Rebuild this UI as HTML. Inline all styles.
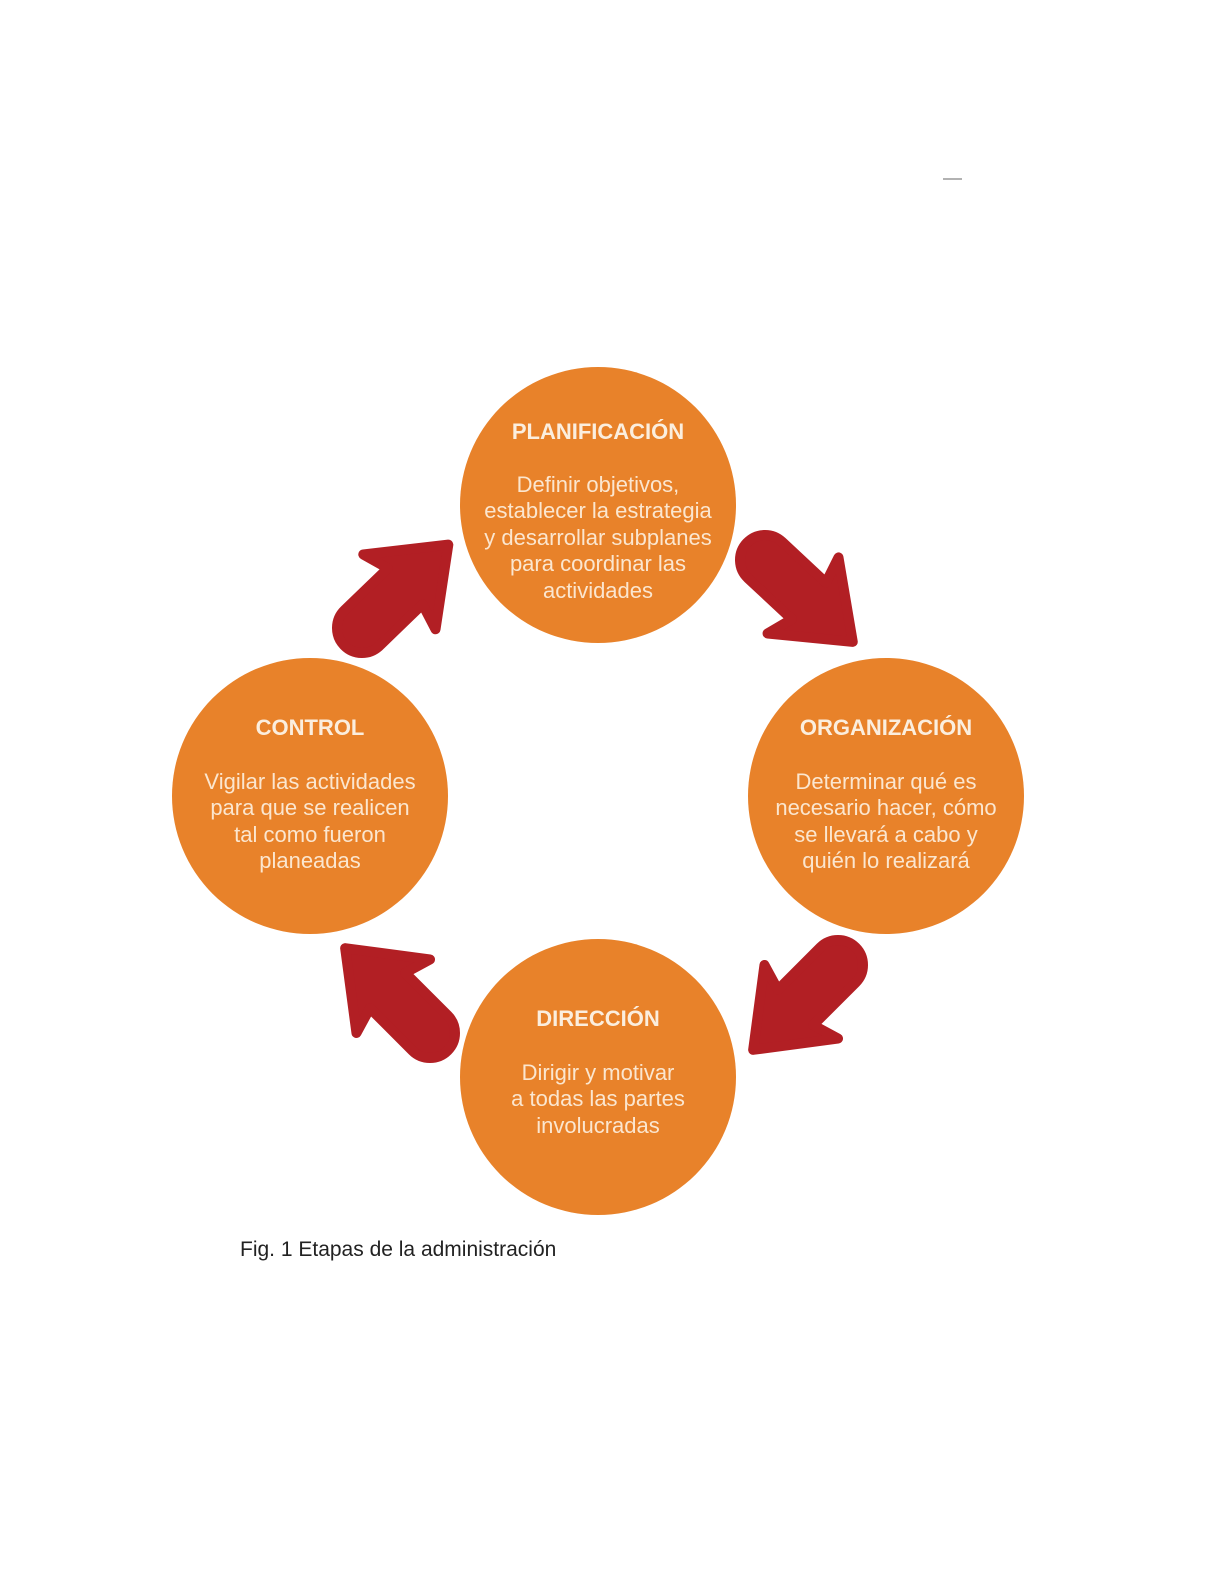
<!DOCTYPE html>
<html><head><meta charset="utf-8"><style>
html,body{margin:0;padding:0;background:#fff;}
svg{display:block;}
.t{font-family:"Liberation Sans",Arial,sans-serif;font-weight:bold;font-size:22px;fill:#fbeede;text-anchor:middle;}
.b{font-family:"Liberation Sans",Arial,sans-serif;font-size:22px;fill:#fbe6cf;text-anchor:middle;}
.cap{font-family:"Liberation Sans",Arial,sans-serif;font-size:21px;fill:#222;}
</style></head><body>
<svg width="1224" height="1584" viewBox="0 0 1224 1584" xmlns="http://www.w3.org/2000/svg">
<defs>
<path id="ar" d="M0,-25 L60,-25 L52,-52 L120,0 L52,52 L60,25 L0,25 A25,25 0 0 1 0,-25 Z" fill="#b21f24" stroke="#b21f24" stroke-width="10" stroke-linejoin="round"/>
</defs>
<line x1="943" y1="179" x2="962" y2="179" stroke="#666" stroke-width="1"/>
<circle cx="598" cy="505" r="138" fill="#e8822a"/>
<circle cx="886" cy="796" r="138" fill="#e8822a"/>
<circle cx="310" cy="796" r="138" fill="#e8822a"/>
<circle cx="598" cy="1077" r="138" fill="#e8822a"/>
<use href="#ar" transform="translate(765,560) rotate(43)"/>
<use href="#ar" transform="translate(838,965) rotate(135)"/>
<use href="#ar" transform="translate(430,1033) rotate(225)"/>
<use href="#ar" transform="translate(362,628) rotate(-44)"/>
<text class="t" x="598" y="439">PLANIFICACIÓN</text>
<text class="b" x="598" y="492">Definir objetivos,</text>
<text class="b" x="598" y="518">establecer la estrategia</text>
<text class="b" x="598" y="545">y desarrollar subplanes</text>
<text class="b" x="598" y="571">para coordinar las</text>
<text class="b" x="598" y="598">actividades</text>
<text class="t" x="310" y="735">CONTROL</text>
<text class="b" x="310" y="789">Vigilar las actividades</text>
<text class="b" x="310" y="815">para que se realicen</text>
<text class="b" x="310" y="842">tal como fueron</text>
<text class="b" x="310" y="868">planeadas</text>
<text class="t" x="886" y="735">ORGANIZACIÓN</text>
<text class="b" x="886" y="789">Determinar qué es</text>
<text class="b" x="886" y="815">necesario hacer, cómo</text>
<text class="b" x="886" y="842">se llevará a cabo y</text>
<text class="b" x="886" y="868">quién lo realizará</text>
<text class="t" x="598" y="1026">DIRECCIÓN</text>
<text class="b" x="598" y="1080">Dirigir y motivar</text>
<text class="b" x="598" y="1106">a todas las partes</text>
<text class="b" x="598" y="1133">involucradas</text>
<text class="cap" x="240" y="1256">Fig. 1 Etapas de la administración</text>
</svg>
</body></html>
